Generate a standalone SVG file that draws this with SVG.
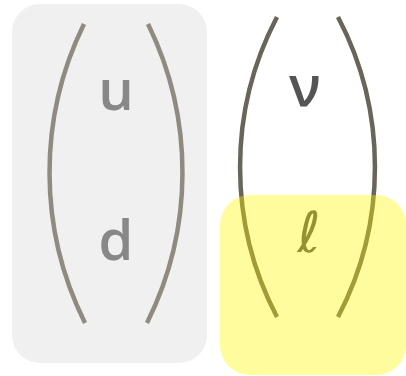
<svg xmlns="http://www.w3.org/2000/svg" width="406" height="376" viewBox="0 0 406 376">
<style>
.lbl{font-family:"Open Sans","DejaVu Sans",sans-serif;font-size:56px;font-weight:600;text-anchor:middle}
.pl{fill:none;stroke:#8f8b80;stroke-width:4.5}
.pr{fill:none;stroke:#68655a;stroke-width:4.5}
</style>
<rect width="406" height="376" fill="#ffffff"/>
<g id="quarks">
<rect x="12" y="4" width="195" height="359" rx="28" ry="28" fill="#f0f0f0"/>
<path class="pl" d="M84,24 A337,337 0 0 0 85,323"/>
<path class="pl" d="M148,24 A337,337 0 0 1 147,323"/>
<text class="lbl" x="116" y="110" fill="#888888">u</text>
<text class="lbl" x="116" y="260" fill="#888888">d</text>
</g>
<g id="leptons">
<path class="pr" d="M277,17 A323,323 0 0 0 277,317"/>
<path class="pr" d="M338,17 A323,323 0 0 1 338,317"/>
<text class="lbl" x="305" y="106" fill="#555555">ν</text>
<text class="lbl" x="309" y="252" fill="#555555" style="font-family:'DejaVu Sans',sans-serif;font-weight:normal">ℓ</text>
</g>
<g id="charged">
<rect x="220" y="195" width="186" height="180" rx="30" ry="30" fill="#fff700" opacity="0.38"/>
</g>
<g id="connectors"></g>
</svg>
